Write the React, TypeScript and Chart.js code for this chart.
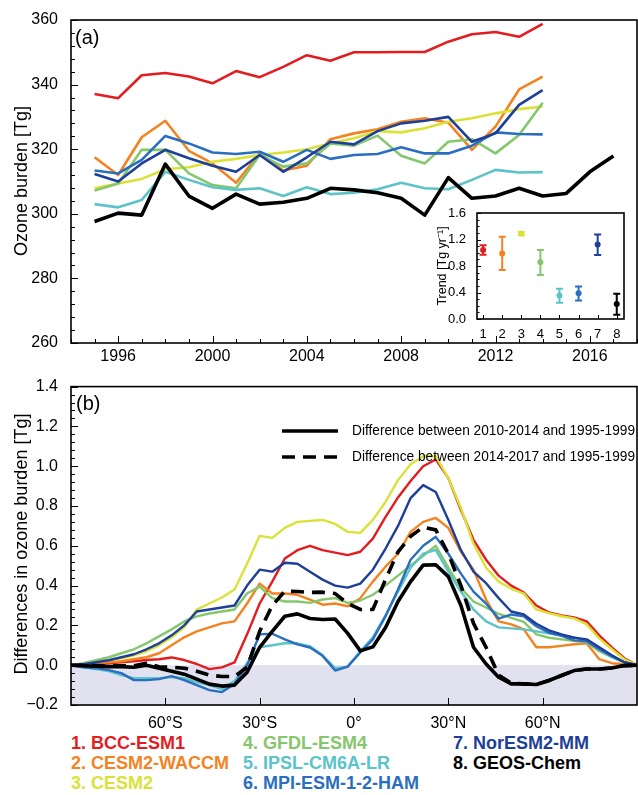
import React, { useEffect, useRef } from "react";
import { Chart, registerables } from "chart.js";

Chart.register(...registerables);

const FONT = '"Liberation Sans", Arial, Helvetica, sans-serif';

// ---------------- Panel (a): annual tropospheric ozone burden [Tg] ----------------
const modelYears = [1995, 1996, 1997, 1998, 1999, 2000, 2001, 2002, 2003, 2004, 2005, 2006, 2007, 2008, 2009, 2010, 2011, 2012, 2013, 2014];
const geosYears = [1995, 1996, 1997, 1998, 1999, 2000, 2001, 2002, 2003, 2004, 2005, 2006, 2007, 2008, 2009, 2010, 2011, 2012, 2013, 2014, 2015, 2016, 2017];

const bccEsm1 = [337.1, 335.8, 342.9, 343.6, 342.5, 340.4, 344.2, 342.3, 345.5, 349.1, 347.4, 350.0, 350.0, 350.1, 350.1, 353.3, 355.6, 356.3, 354.8, 358.8];
const cesm2Waccm = [317.5, 312.0, 323.7, 328.8, 319.5, 315.6, 309.6, 318.7, 313.4, 314.9, 323.1, 324.9, 326.2, 328.5, 329.6, 328.2, 319.8, 327.0, 338.5, 342.5];
const cesm2 = [307.9, 309.4, 310.8, 313.8, 314.4, 316.1, 317.0, 318.2, 319.0, 320.0, 321.8, 323.4, 325.6, 325.2, 326.5, 328.5, 329.6, 331.1, 332.4, 333.2];
const gfdlEsm4 = [307.2, 309.4, 319.8, 319.8, 312.5, 308.9, 307.9, 318.2, 314.6, 315.6, 321.8, 321.1, 324.2, 318.0, 315.6, 322.3, 323.1, 318.7, 324.4, 334.4];
const ipslCm6aLr = [303.0, 302.0, 304.3, 313.0, 310.5, 308.2, 307.4, 307.9, 305.5, 308.2, 306.1, 306.5, 307.6, 309.6, 307.9, 307.6, 310.5, 313.6, 312.8, 312.9];
const mpiEsmHam = [313.4, 312.5, 316.7, 324.1, 321.8, 319.0, 318.5, 319.2, 316.1, 319.8, 317.0, 318.2, 318.5, 320.6, 318.7, 318.7, 321.1, 325.2, 324.7, 324.6];
const norEsm2Mm = [312.3, 310.0, 315.6, 319.8, 317.2, 314.9, 313.0, 318.2, 313.0, 317.5, 322.3, 321.5, 325.6, 328.0, 328.8, 330.0, 322.3, 324.9, 333.7, 338.3];
const geosChem = [297.6, 300.2, 299.6, 315.4, 305.5, 301.7, 306.1, 303.0, 303.6, 304.8, 307.9, 307.4, 306.5, 304.8, 299.6, 311.2, 304.8, 305.5, 307.9, 305.5, 306.3, 313.0, 317.9];

const yearTicks = [1996, 2000, 2004, 2008, 2012, 2016];
const burdenTicks = [260, 280, 300, 320, 340, 360];

// ---------------- Inset: trend [Tg/yr] ----------------
const trendIndex = [1, 2, 3, 4, 5, 6, 7, 8];
const trendValue = [1.04, 0.99, 1.29, 0.855, 0.355, 0.39, 1.125, 0.225];
const trendLow = [0.97, 0.74, 1.265, 0.665, 0.245, 0.28, 0.965, 0.065];
const trendHigh = [1.115, 1.24, 1.315, 1.04, 0.455, 0.49, 1.275, 0.38];
const trendTicks = [0, 0.4, 0.8, 1.2, 1.6];

// ---------------- Panel (b): zonal differences [Tg] ----------------
const lats = [-90, -86, -82, -78, -74, -70, -66, -62, -58, -54, -50, -46, -42, -38, -34, -30, -26, -22, -18, -14, -10, -6, -2, 2, 6, 10, 14, 18, 22, 26, 30, 34, 38, 42, 46, 50, 54, 58, 62, 66, 70, 74, 78, 82, 86, 90];

const dBcc = [0, 0.002, 0.005, 0.01, 0.015, 0.02, 0.026, 0.03, 0.039, 0.026, 0.006, -0.02, -0.011, 0.014, 0.155, 0.31, 0.42, 0.536, 0.578, 0.6, 0.578, 0.566, 0.553, 0.57, 0.636, 0.744, 0.843, 0.926, 1.0, 1.034, 0.94, 0.78, 0.63, 0.53, 0.45, 0.4, 0.365, 0.3, 0.265, 0.25, 0.24, 0.22, 0.15, 0.09, 0.035, 0];
const dWaccm = [0, 0.005, 0.01, 0.015, 0.02, 0.03, 0.04, 0.06, 0.1, 0.14, 0.17, 0.19, 0.21, 0.22, 0.31, 0.41, 0.36, 0.36, 0.354, 0.33, 0.304, 0.31, 0.296, 0.337, 0.42, 0.495, 0.56, 0.67, 0.72, 0.74, 0.69, 0.57, 0.48, 0.33, 0.22, 0.205, 0.18, 0.09, 0.09, 0.097, 0.105, 0.11, 0.03, 0.01, 0.005, 0];
const dCesm2 = [0, 0.005, 0.015, 0.025, 0.035, 0.05, 0.07, 0.1, 0.14, 0.19, 0.28, 0.31, 0.34, 0.38, 0.51, 0.65, 0.64, 0.69, 0.72, 0.725, 0.73, 0.71, 0.67, 0.665, 0.73, 0.82, 0.93, 1.01, 1.05, 1.05, 0.94, 0.79, 0.61, 0.49, 0.42, 0.385, 0.36, 0.28, 0.262, 0.246, 0.235, 0.205, 0.135, 0.08, 0.03, 0];
const dGfdl = [0, 0.01, 0.025, 0.04, 0.06, 0.08, 0.11, 0.145, 0.18, 0.22, 0.245, 0.26, 0.27, 0.28, 0.36, 0.395, 0.337, 0.32, 0.32, 0.313, 0.33, 0.337, 0.313, 0.325, 0.354, 0.4, 0.45, 0.5, 0.55, 0.6, 0.49, 0.387, 0.32, 0.29, 0.258, 0.238, 0.218, 0.155, 0.138, 0.13, 0.122, 0.115, 0.07, 0.04, 0.014, 0];
const dIpsl = [0, -0.01, -0.02, -0.03, -0.05, -0.065, -0.065, -0.065, -0.06, -0.065, -0.085, -0.1, -0.12, -0.08, 0.01, 0.09, 0.1, 0.11, 0.11, 0.095, 0.05, -0.015, -0.007, 0.07, 0.14, 0.25, 0.37, 0.49, 0.56, 0.58, 0.47, 0.37, 0.28, 0.22, 0.19, 0.185, 0.18, 0.17, 0.16, 0.15, 0.14, 0.125, 0.08, 0.04, 0.014, 0];
const dMpi = [0, -0.01, -0.015, -0.025, -0.04, -0.075, -0.075, -0.07, -0.055, -0.075, -0.1, -0.125, -0.135, -0.095, 0.0, 0.155, 0.158, 0.13, 0.105, 0.089, 0.047, -0.027, -0.007, 0.064, 0.13, 0.245, 0.38, 0.53, 0.6, 0.645, 0.56, 0.46, 0.37, 0.31, 0.234, 0.255, 0.246, 0.196, 0.163, 0.147, 0.125, 0.12, 0.08, 0.045, 0.015, 0];
const dNor = [0, 0.005, 0.015, 0.025, 0.04, 0.055, 0.08, 0.11, 0.15, 0.2, 0.27, 0.28, 0.29, 0.3, 0.4, 0.48, 0.47, 0.515, 0.51, 0.47, 0.43, 0.4, 0.39, 0.41, 0.48, 0.585, 0.7, 0.84, 0.905, 0.87, 0.73, 0.578, 0.47, 0.412, 0.337, 0.27, 0.255, 0.208, 0.175, 0.155, 0.138, 0.13, 0.09, 0.05, 0.015, 0];
const dGeos1014 = [0, -0.003, -0.005, -0.007, -0.007, -0.01, 0.0, -0.015, -0.03, -0.045, -0.07, -0.095, -0.105, -0.1, -0.035, 0.09, 0.17, 0.246, 0.258, 0.235, 0.23, 0.232, 0.16, 0.072, 0.092, 0.188, 0.32, 0.42, 0.503, 0.505, 0.445, 0.3, 0.09, 0.006, -0.06, -0.094, -0.094, -0.097, -0.077, -0.052, -0.027, -0.019, -0.019, -0.014, -0.002, 0];
const dGeos1417 = [0, 0, -0.002, -0.003, -0.003, -0.003, 0.01, -0.008, -0.01, -0.015, -0.03, -0.05, -0.057, -0.057, -0.01, 0.17, 0.3, 0.372, 0.37, 0.366, 0.367, 0.36, 0.31, 0.28, 0.28, 0.43, 0.57, 0.648, 0.694, 0.68, 0.56, 0.4, 0.21, 0.09, -0.05, -0.09, -0.094, -0.097, -0.077, -0.052, -0.027, -0.019, -0.019, -0.014, -0.002, 0];

const latTicks = [-60, -30, 0, 30, 60];
const latTickLabels = ["60°S", "30°S", "0°", "30°N", "60°N"];
const diffTicks = [-0.2, 0, 0.2, 0.4, 0.6, 0.8, 1.0, 1.2, 1.4];
const diffTickLabels = ["−0.2", "0.0", "0.2", "0.4", "0.6", "0.8", "1.0", "1.2", "1.4"];

const modelNames = ["1. BCC-ESM1", "2. CESM2-WACCM", "3. CESM2", "4. GFDL-ESM4", "5. IPSL-CM6A-LR", "6. MPI-ESM-1-2-HAM", "7. NorESM2-MM", "8. GEOS-Chem"];
const modelColors = ["#e31d1f", "#f4831f", "#dbe236", "#86c66c", "#5cc3c9", "#2a6ebf", "#1d3f99", "#000000"];

const legendB = ["Difference between 2010-2014 and 1995-1999", "Difference between 2014-2017 and 1995-1999"];

// ---------------- helpers ----------------
function pts(xs: number[], ys: number[]) {
  return ys.map((v, i) => ({ x: xs[i], y: v }));
}

type FrameCfg = {
  xMajor: number[];
  xMinorStep: number;
  yMajor: number[];
  yMinorStep: number;
  majorLen: number;
  minorLen: number;
  frameWidth: number;
  fill?: string;
  shade?: { from: number; to: number; color: string };
};

function framePlugin(cfg: FrameCfg) {
  return {
    id: "frame",
    beforeDatasetsDraw(chart: any) {
      const { ctx, chartArea: a, scales } = chart;
      ctx.save();
      if (cfg.fill) {
        ctx.fillStyle = cfg.fill;
        ctx.fillRect(a.left, a.top, a.right - a.left, a.bottom - a.top);
      }
      if (cfg.shade) {
        const y0 = scales.y.getPixelForValue(cfg.shade.from);
        const y1 = scales.y.getPixelForValue(cfg.shade.to);
        ctx.fillStyle = cfg.shade.color;
        ctx.fillRect(a.left, Math.min(y0, y1), a.right - a.left, Math.abs(y1 - y0));
      }
      ctx.restore();
    },
    afterDraw(chart: any) {
      const { ctx, chartArea: a, scales } = chart;
      const x = scales.x;
      const y = scales.y;
      ctx.save();
      ctx.strokeStyle = "#000";
      ctx.lineWidth = 1;
      ctx.beginPath();
      const near = (v: number, arr: number[]) => arr.some((m) => Math.abs(m - v) < 1e-6);
      if (cfg.xMinorStep > 0) {
        const start = Math.ceil(x.min / cfg.xMinorStep - 1e-9) * cfg.xMinorStep;
        for (let v = start; v <= x.max + 1e-9; v += cfg.xMinorStep) {
          if (near(v, cfg.xMajor)) continue;
          const px = Math.round(x.getPixelForValue(v)) + 0.5;
          ctx.moveTo(px, a.bottom);
          ctx.lineTo(px, a.bottom - cfg.minorLen);
        }
      }
      for (const v of cfg.xMajor) {
        const px = Math.round(x.getPixelForValue(v)) + 0.5;
        ctx.moveTo(px, a.bottom);
        ctx.lineTo(px, a.bottom - cfg.majorLen);
      }
      if (cfg.yMinorStep > 0) {
        const start = Math.ceil(y.min / cfg.yMinorStep - 1e-9) * cfg.yMinorStep;
        for (let v = start; v <= y.max + 1e-9; v += cfg.yMinorStep) {
          if (near(v, cfg.yMajor)) continue;
          const py = Math.round(y.getPixelForValue(v)) + 0.5;
          ctx.moveTo(a.left, py);
          ctx.lineTo(a.left + cfg.minorLen, py);
        }
      }
      for (const v of cfg.yMajor) {
        const py = Math.round(y.getPixelForValue(v)) + 0.5;
        ctx.moveTo(a.left, py);
        ctx.lineTo(a.left + cfg.majorLen, py);
      }
      ctx.stroke();
      ctx.lineWidth = cfg.frameWidth;
      ctx.strokeRect(a.left, a.top, a.right - a.left, a.bottom - a.top);
      ctx.restore();
    },
  };
}

type TextItem = { text: string; x: number; y: number; size: number; rotate?: boolean; align?: CanvasTextAlign; bold?: boolean; maxWidth?: number };

function textPlugin(items: TextItem[], extra?: (ctx: CanvasRenderingContext2D) => void) {
  return {
    id: "texts",
    afterDraw(chart: any) {
      const ctx: CanvasRenderingContext2D = chart.ctx;
      ctx.save();
      ctx.fillStyle = "#000";
      ctx.textBaseline = "middle";
      for (const t of items) {
        ctx.font = `${t.bold ? "bold " : ""}${t.size}px ${FONT}`;
        ctx.textAlign = t.align || "center";
        if (t.rotate) {
          ctx.save();
          ctx.translate(t.x, t.y);
          ctx.rotate(-Math.PI / 2);
          ctx.fillText(t.text, 0, 0);
          ctx.restore();
        } else if (t.maxWidth) {
          ctx.fillText(t.text, t.x, t.y, t.maxWidth);
        } else {
          ctx.fillText(t.text, t.x, t.y);
        }
      }
      if (extra) extra(ctx);
      ctx.restore();
    },
  };
}

function axisX(min: number, max: number, ticks: number[], labels: (v: number) => string, height: number, size: number, padding: number) {
  return {
    type: "linear",
    min,
    max,
    grid: { display: false },
    border: { display: false },
    afterBuildTicks: (s: any) => {
      s.ticks = ticks.map((v) => ({ value: v }));
    },
    afterFit: (s: any) => {
      s.height = height;
    },
    ticks: {
      autoSkip: false,
      maxRotation: 0,
      minRotation: 0,
      padding,
      color: "#000",
      font: { family: FONT, size },
      callback: (v: any) => labels(Number(v)),
    },
  };
}

function axisY(min: number, max: number, ticks: number[], labels: (v: number) => string, width: number, size: number, padding: number) {
  return {
    type: "linear",
    min,
    max,
    grid: { display: false },
    border: { display: false },
    afterBuildTicks: (s: any) => {
      s.ticks = ticks.map((v) => ({ value: v }));
    },
    afterFit: (s: any) => {
      s.width = width;
    },
    ticks: {
      autoSkip: false,
      padding,
      color: "#000",
      font: { family: FONT, size },
      callback: (v: any) => labels(Number(v)),
    },
  };
}

const baseOptions = {
  responsive: false,
  animation: false,
  events: [],
  plugins: { legend: { display: false }, tooltip: { enabled: false } },
  elements: { point: { radius: 0 }, line: { tension: 0, borderJoinStyle: "round", fill: false } },
};

// ---------------- components ----------------
function PanelA() {
  const ref = useRef<HTMLCanvasElement>(null);
  useEffect(() => {
    const series = [bccEsm1, cesm2Waccm, cesm2, gfdlEsm4, ipslCm6aLr, mpiEsmHam, norEsm2Mm];
    const datasets: any[] = [
      { label: modelNames[7], data: pts(geosYears, geosChem), borderColor: modelColors[7], borderWidth: 3.6 },
    ];
    for (let i = series.length - 1; i >= 0; i--) {
      datasets.push({ label: modelNames[i], data: pts(modelYears, series[i]), borderColor: modelColors[i], borderWidth: 2.6 });
    }
    const chart = new Chart(ref.current as HTMLCanvasElement, {
      type: "line",
      data: { datasets },
      options: {
        ...baseOptions,
        layout: { padding: { top: 20, right: 1, left: 0, bottom: 0 } },
        scales: {
          x: axisX(1994, 2018, yearTicks, (v) => String(v), 29, 16, -4),
          y: axisY(260, 360, burdenTicks, (v) => String(v), 71, 16, 5),
        },
      } as any,
      plugins: [
        framePlugin({ xMajor: yearTicks, xMinorStep: 1, yMajor: burdenTicks, yMinorStep: 4, majorLen: 7, minorLen: 4, frameWidth: 1.6 }),
        textPlugin([
          { text: "(a)", x: 75, y: 38, size: 20, align: "left" },
          { text: "Ozone burden [Tg]", x: 22, y: 181, size: 18, rotate: true },
        ]),
      ],
    } as any);
    return () => chart.destroy();
  }, []);
  return <canvas ref={ref} width={638} height={372} style={{ position: "absolute", left: 0, top: 0 }} />;
}

function Inset() {
  const ref = useRef<HTMLCanvasElement>(null);
  useEffect(() => {
    const errorBars = {
      id: "errorBars",
      beforeDatasetsDraw(chart: any) {
        const { ctx, scales } = chart;
        ctx.save();
        ctx.lineWidth = 2;
        trendIndex.forEach((xi, i) => {
          const px = scales.x.getPixelForValue(xi);
          const pLo = scales.y.getPixelForValue(trendLow[i]);
          const pHi = scales.y.getPixelForValue(trendHigh[i]);
          ctx.strokeStyle = modelColors[i];
          ctx.beginPath();
          ctx.moveTo(px, pLo);
          ctx.lineTo(px, pHi);
          ctx.moveTo(px - 3.5, pLo);
          ctx.lineTo(px + 3.5, pLo);
          ctx.moveTo(px - 3.5, pHi);
          ctx.lineTo(px + 3.5, pHi);
          ctx.stroke();
        });
        ctx.restore();
      },
    };
    const chart = new Chart(ref.current as HTMLCanvasElement, {
      type: "scatter",
      data: {
        datasets: [
          {
            data: pts(trendIndex, trendValue),
            pointRadius: 3,
            pointBackgroundColor: modelColors,
            pointBorderColor: modelColors,
            pointBorderWidth: 0,
          },
        ],
      },
      options: {
        ...baseOptions,
        layout: { padding: { top: 13, right: 10, left: 0, bottom: 0 } },
        scales: {
          x: axisX(0.68, 8.38, trendIndex, (v) => String(v), 21, 13, 0),
          y: axisY(0, 1.6, trendTicks, (v) => v.toFixed(1), 49, 13, 3),
        },
      } as any,
      plugins: [
        framePlugin({ xMajor: trendIndex, xMinorStep: 0, yMajor: trendTicks, yMinorStep: 0.1, majorLen: 4, minorLen: 2.5, frameWidth: 1.6, fill: "#ffffff" }),
        errorBars,
        textPlugin([{ text: "Trend [Tg yr⁻¹]", x: 15, y: 66, size: 12.5, rotate: true }]),
      ],
    } as any);
    return () => chart.destroy();
  }, []);
  return <canvas ref={ref} width={206} height={140} style={{ position: "absolute", left: 428, top: 200 }} />;
}

function PanelB() {
  const ref = useRef<HTMLCanvasElement>(null);
  useEffect(() => {
    const series = [dBcc, dWaccm, dCesm2, dGfdl, dIpsl, dMpi, dNor];
    const datasets: any[] = [
      { label: legendB[0], data: pts(lats, dGeos1014), borderColor: "#000", borderWidth: 3.6 },
      { label: legendB[1], data: pts(lats, dGeos1417), borderColor: "#000", borderWidth: 3.6, borderDash: [13, 8] },
    ];
    for (let i = series.length - 1; i >= 0; i--) {
      datasets.push({ label: modelNames[i], data: pts(lats, series[i]), borderColor: modelColors[i], borderWidth: 2.4 });
    }
    const legendDraw = (ctx: CanvasRenderingContext2D) => {
      ctx.strokeStyle = "#000";
      ctx.lineWidth = 3.6;
      ctx.beginPath();
      ctx.moveTo(282, 59);
      ctx.lineTo(338, 59);
      ctx.stroke();
      ctx.setLineDash([13, 8]);
      ctx.beginPath();
      ctx.moveTo(282, 85);
      ctx.lineTo(338, 85);
      ctx.stroke();
      ctx.setLineDash([]);
    };
    const chart = new Chart(ref.current as HTMLCanvasElement, {
      type: "line",
      data: { datasets },
      options: {
        ...baseOptions,
        layout: { padding: { top: 12, right: 1, left: 0, bottom: 0 } },
        scales: {
          x: axisX(-90, 90, latTicks, (v) => latTickLabels[latTicks.indexOf(v)] ?? "", 27, 16, 1),
          y: axisY(-0.2, 1.4, diffTicks, (v) => {
            const k = diffTicks.findIndex((t) => Math.abs(t - v) < 1e-6);
            return k >= 0 ? diffTickLabels[k] : "";
          }, 71, 16, 5),
        },
      } as any,
      plugins: [
        framePlugin({
          xMajor: latTicks,
          xMinorStep: 0,
          yMajor: diffTicks,
          yMinorStep: 0.04,
          majorLen: 7,
          minorLen: 4,
          frameWidth: 1.6,
          shade: { from: 0, to: -0.2, color: "#e1e1ef" },
        }),
        textPlugin(
          [
            { text: "(b)", x: 76, y: 32, size: 20, align: "left" },
            { text: "Differences in ozone burden [Tg]", x: 22, y: 172, size: 18, rotate: true },
            { text: legendB[0], x: 352, y: 59, size: 14.5, align: "left", maxWidth: 283 },
            { text: legendB[1], x: 352, y: 85, size: 14.5, align: "left", maxWidth: 283 },
          ],
          legendDraw
        ),
      ],
    } as any);
    return () => chart.destroy();
  }, []);
  return <canvas ref={ref} width={638} height={360} style={{ position: "absolute", left: 0, top: 372 }} />;
}

function ModelLegend() {
  const cols = [71, 243, 453];
  const rows = [743, 763, 783];
  return (
    <>
      {modelNames.map((name, i) => (
        <div
          key={name}
          style={{
            position: "absolute",
            left: cols[Math.floor(i / 3)],
            top: rows[i % 3] - 11,
            height: 22,
            lineHeight: "22px",
            fontFamily: FONT,
            fontWeight: "bold",
            fontSize: 18,
            color: modelColors[i],
            whiteSpace: "nowrap",
          }}
        >
          {name}
        </div>
      ))}
    </>
  );
}

export default function App() {
  useEffect(() => {
    document.body.style.margin = "0";
  }, []);
  return (
    <div style={{ position: "relative", width: 638, height: 795, background: "#fff", overflow: "hidden" }}>
      <style>{"body{margin:0}"}</style>
      <PanelA />
      <Inset />
      <PanelB />
      <ModelLegend />
    </div>
  );
}
